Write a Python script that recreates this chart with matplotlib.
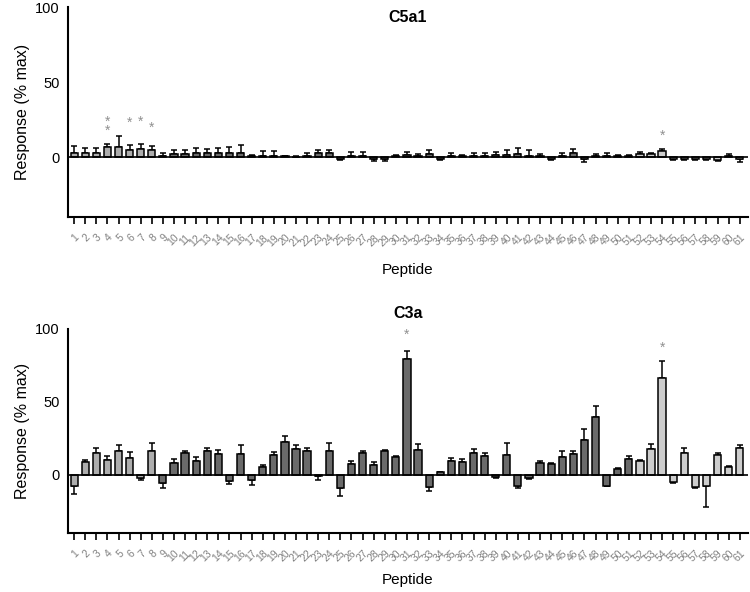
import numpy as np
import matplotlib
matplotlib.use("Agg")
import matplotlib.pyplot as plt

plt.rcParams['font.family'] = ['Liberation Sans', 'DejaVu Sans']

peptides = list(range(1, 62))

# C5a1 responses (% max) and SEM
c5a1_vals = [2.5, 2.5, 2.5, 6.5, 7, 5, 5.5, 5, 1, 2,
             2, 2.5, 2.5, 3, 3, 3, 1, 1, 0.5, 0.5,
             0, 1, 2.5, 2.5, -1.5, 1, 1, -1.5, -1.5, 0.5,
             1.5, 0.5, 2, -1.5, 1, 0.5, 1, 1, 1.5, 1.5,
             2, 1, 0.5, -1.5, 1, 2.5, -1.5, 0.5, 0.5, 0.5,
             0.5, 2, 2, 4, -1.5, -1.5, -1.5, -1.5, -2, 1,
             -1.5]
c5a1_err = [5, 3.5, 3.5, 2, 7, 3, 3, 2.5, 2, 2.5,
            2.5, 3.5, 3, 3, 4, 5, 0.5, 3, 3.5, 0.5,
            0.5, 2, 2.5, 2, 0.5, 2.5, 2.5, 1, 1, 1,
            2, 1.5, 3, 0.5, 2, 1, 1.5, 2, 2, 3,
            4, 4, 1.5, 0.5, 2, 3, 1.5, 1.5, 2, 1,
            1, 1.5, 1, 1.5, 0.5, 0.5, 0.5, 0.5, 0.5, 1,
            1.5]

# C3a responses (% max) and SEM
c3a_vals = [-8, 8.5, 15, 10, 16, 11.5, -2, 16, -6, 8,
            14.5, 9.5, 16, 14, -4.5, 14, -3.5, 5, 13.5, 22.5,
            17.5, 16.5, -1, 16.5, -9.5, 7, 14.5, 6.5, 16, 12,
            79, 17, -8.5, 1.5, 9, 8.5, 14.5, 12.5, -1.5, 13.5,
            -8, -2, 8, 7, 12, 14, 24, 39.5, -7.5, 4,
            11, 9, 17.5, 66, -5, 15, -8.5, -7.5, 13.5, 5,
            18]
c3a_err = [5, 1.5, 3.5, 2.5, 4.5, 4, 1.5, 6, 3.5, 2.5,
           2, 2.5, 2.5, 3, 2, 6, 3.5, 1.5, 2, 4,
           2.5, 1.5, 3, 5.5, 5, 2.5, 1.5, 2, 1, 0.5,
           6, 4, 2.5, 0.5, 2.3, 2.5, 3, 2.5, 0.5, 8.5,
           1.5, 1, 1.5, 1, 4, 2.5, 7.5, 7.5, 0.5, 0.8,
           1.5, 1, 3.5, 12, 0.5, 3, 0.8, 14.5, 1, 1,
           2]

# significance marks: (peptide, y position, label)
c5a1_stars = [(4, 20.5, '*\n*'), (6, 23, '*'), (7, 23.5, '*'), (8, 19.5, '*'), (54, 14.5, '*')]
c3a_stars = [(31, 96, '*'), (54, 87, '*')]

light = '#adadad'
dark = '#6a6a6a'
pale = '#cdcdcd'
colors = [light] * 8 + [dark] * 43 + [pale] * 10

fig = plt.figure(figsize=(7.5, 5.92), dpi=100)
ax1 = fig.add_axes([0.0907, 0.633, 0.906, 0.355])
ax2 = fig.add_axes([0.0907, 0.0997, 0.906, 0.345])


def draw_panel(ax, vals, errs, stars, title, title_y, xpad):
    vals = np.array(vals)
    errs = np.array(errs)
    lo = np.where(vals < 0, errs, 0)
    hi = np.where(vals >= 0, errs, 0)
    ax.bar(peptides, vals, width=0.65, color=colors, edgecolor='black',
           linewidth=1.1, zorder=3)
    ax.errorbar(peptides, vals, yerr=[lo, hi], fmt='none', ecolor='black',
                elinewidth=1.1, capsize=2.2, capthick=1.1, zorder=2)
    ax.axhline(0, color='black', lw=1.2, zorder=4)
    for p, y, s in stars:
        ax.text(p, y, s, color='#909090', fontsize=10, ha='center', va='center',
                linespacing=0.6)
    ax.set_xlim(0.45, 61.7)
    ax.set_ylim(-40, 100)
    ax.set_yticks([0, 50, 100])
    ax.tick_params(axis='y', labelsize=10.5, length=0, pad=6)
    ax.set_xticks(peptides)
    ax.set_xticklabels([str(p) for p in peptides], rotation=45, ha='right',
                       rotation_mode='anchor', fontsize=7.5, color='#808080')
    ax.tick_params(axis='x', length=5, width=1.2, pad=6)
    for s in ['top', 'right']:
        ax.spines[s].set_visible(False)
    ax.spines['left'].set_linewidth(1.5)
    ax.spines['bottom'].set_linewidth(1.5)
    ax.set_ylabel('Response (% max)', fontsize=11.5, labelpad=4)
    ax.set_xlabel('Peptide', fontsize=11, labelpad=xpad)
    fig.text(0.544, title_y, title, fontsize=11.5, fontweight='bold',
             ha='center', va='center')


draw_panel(ax1, c5a1_vals, c5a1_err, c5a1_stars, 'C5a1', 0.970, 11)
draw_panel(ax2, c3a_vals, c3a_err, c3a_stars, 'C3a', 0.471, 7)

fig.savefig('out.png', dpi=100)
